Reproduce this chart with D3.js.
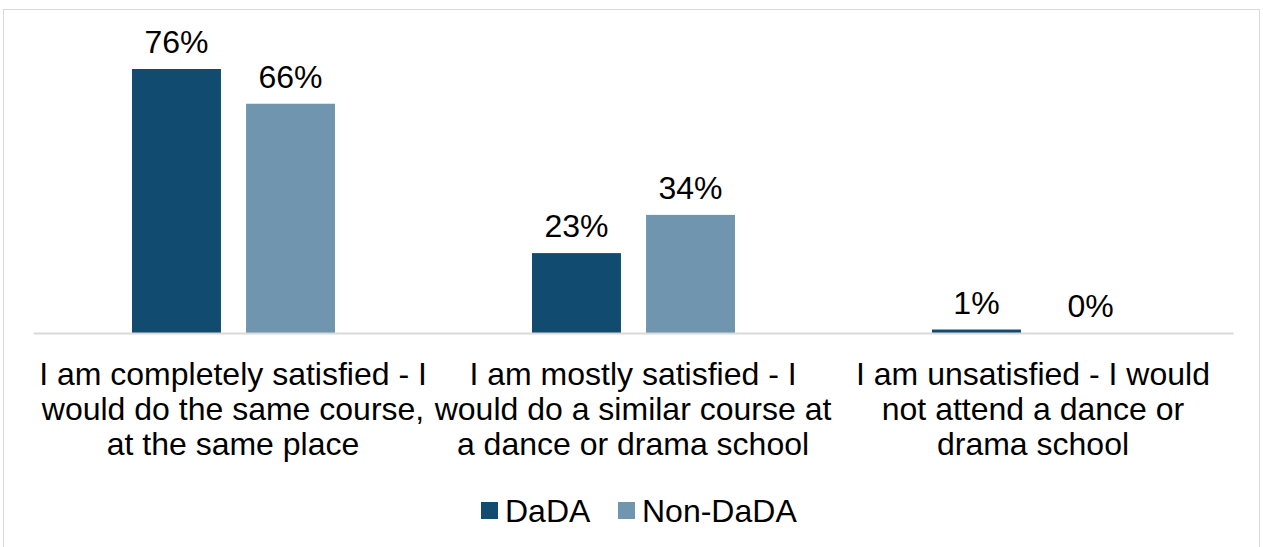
<!DOCTYPE html>
<html>
<head>
<meta charset="utf-8">
<script src="https://cdn.jsdelivr.net/npm/d3@7"></script>
<style>
  html, body { margin: 0; padding: 0; background: #fff; }
  svg { display: block; font-family: "Liberation Sans", Arial, sans-serif; }
</style>
</head>
<body>
<svg id="chart" width="1263" height="547"></svg>
<script>
const categories = [
  ["I am completely satisfied - I", "would do the same course,", "at the same place"],
  ["I am mostly satisfied - I", "would do a similar course at", "a dance or drama school"],
  ["I am unsatisfied - I would", "not attend a dance or", "drama school"]
];
const seriesNames = ["DaDA", "Non-DaDA"];
const dada = [76, 23, 1];
const nonDada = [66, 34, 0];
const colors = ["#114C70", "#7096AF"];

const svg = d3.select("#chart");
const FONT = 32;

// outer frame
svg.append("rect")
  .attr("x", 3.5).attr("y", 9.5)
  .attr("width", 1256).attr("height", 560)
  .attr("fill", "#fff").attr("stroke", "#d9d9d9").attr("stroke-width", 1);

const plot = { left: 33, right: 1233, top: 69, bottom: 333 };

const x0 = d3.scaleBand()
  .domain(d3.range(categories.length))
  .range([plot.left, plot.right])
  .paddingInner(0).paddingOuter(0);

const x1 = d3.scaleBand()
  .domain(seriesNames)
  .range([99, 302])
  .paddingInner(0.22)
  .paddingOuter(0);

const y = d3.scaleLinear().domain([0, 76]).range([plot.bottom, plot.top]);

const rows = categories.map((c, i) => ({ i, values: [dada[i], nonDada[i]] }));

const groups = svg.append("g").selectAll("g")
  .data(rows).join("g")
  .attr("transform", d => `translate(${x0(d.i)},0)`);

groups.selectAll("rect")
  .data(d => d.values.map((v, k) => ({ v, k })))
  .join("rect")
  .attr("x", d => x1(seriesNames[d.k]))
  .attr("width", x1.bandwidth())
  .attr("y", d => y(d.v))
  .attr("height", d => y(0) - y(d.v))
  .attr("fill", d => colors[d.k]);

groups.selectAll("text.val")
  .data(d => d.values.map((v, k) => ({ v, k })))
  .join("text")
  .attr("class", "val")
  .attr("x", d => x1(seriesNames[d.k]) + x1.bandwidth() / 2)
  .attr("y", d => y(d.v) - 16)
  .attr("text-anchor", "middle")
  .attr("font-size", FONT)
  .attr("fill", "#000")
  .text(d => d.v + "%");

// baseline axis
const xAxis = d3.axisBottom(x0).tickSize(0).tickFormat("");
const ax = svg.append("g").attr("transform", `translate(0,${plot.bottom})`).call(xAxis);
ax.select(".domain").attr("stroke", "#d9d9d9").attr("stroke-width", 2);

// category labels
const catG = svg.append("g");
categories.forEach((lines, i) => {
  const t = catG.append("text")
    .attr("text-anchor", "middle")
    .attr("font-size", FONT)
    .attr("fill", "#000");
  lines.forEach((ln, j) => {
    t.append("tspan")
      .attr("x", x0(i) + x0.bandwidth() / 2)
      .attr("y", 385 + j * 35)
      .text(ln);
  });
});

// legend
const legend = svg.append("g");
const legendItems = [
  { name: seriesNames[0], color: colors[0], x: 481 },
  { name: seriesNames[1], color: colors[1], x: 618 }
];
legendItems.forEach(it => {
  legend.append("rect")
    .attr("x", it.x).attr("y", 502)
    .attr("width", 17).attr("height", 17)
    .attr("fill", it.color);
  legend.append("text")
    .attr("x", it.x + 24).attr("y", 522)
    .attr("font-size", FONT)
    .attr("fill", "#000")
    .text(it.name);
});
</script>
</body>
</html>
